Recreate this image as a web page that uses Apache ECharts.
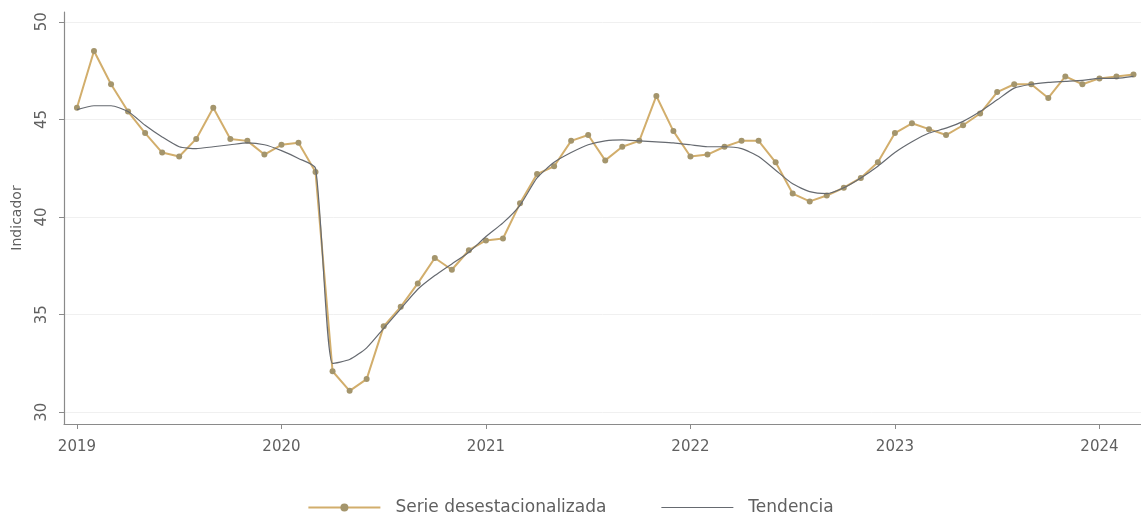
<!DOCTYPE html>
<html>
<head>
<meta charset="utf-8">
<script src="https://cdn.jsdelivr.net/npm/echarts@6/dist/echarts.min.js"></script>
<style>html,body{margin:0;padding:0;background:#fff;}#c{width:1141px;height:515px;}</style>
</head>
<body>
<div id="c"></div>
<script>
// Monthly, Jan 2019 (index 0) .. Mar 2024 (index 62)
const startYear = 2019;
const yearTicks = [2019, 2020, 2021, 2022, 2023, 2024];
const yTicks = [30, 35, 40, 45, 50];
const serieDesest = [
  45.6, 48.5, 46.8, 45.4, 44.3, 43.3, 43.1, 44.0, 45.6, 44.0, 43.9, 43.2,
  43.7, 43.8, 42.3, 32.1, 31.1, 31.7, 34.4, 35.4, 36.6, 37.9, 37.3, 38.3,
  38.8, 38.9, 40.7, 42.2, 42.6, 43.9, 44.2, 42.9, 43.6, 43.9, 46.2, 44.4,
  43.1, 43.2, 43.6, 43.9, 43.9, 42.8, 41.2, 40.8, 41.1, 41.5, 42.0, 42.8,
  44.3, 44.8, 44.5, 44.2, 44.7, 45.3, 46.4, 46.8, 46.8, 46.1, 47.2, 46.8,
  47.1, 47.2, 47.3
];
const tendencia = [
  45.5, 45.7, 45.7, 45.4, 44.7, 44.1, 43.6, 43.5, 43.6, 43.7, 43.8, 43.7,
  43.4, 43.0, 42.5, 32.5, 32.7, 33.3, 34.3, 35.3, 36.3, 37.0, 37.6, 38.2,
  39.0, 39.7, 40.6, 42.0, 42.8, 43.3, 43.7, 43.9, 43.95, 43.9, 43.85, 43.8,
  43.7, 43.6, 43.6, 43.5, 43.1, 42.4, 41.7, 41.3, 41.2, 41.5, 42.0, 42.6,
  43.3, 43.85, 44.3, 44.55, 44.9, 45.4, 46.0, 46.6, 46.8, 46.9, 46.95, 47.0,
  47.1, 47.1, 47.2
];
const toPairs = arr => arr.map((v, i) => [i, v]);
const font = 'DejaVu Sans';
const txt = '#606060';
const chart = echarts.init(document.getElementById('c'));
chart.setOption({
  backgroundColor: '#fff',
  animation: false,
  grid: {left: 64, right: 0, top: 12, bottom: 91, containLabel: false},
  xAxis: {
    type: 'value', min: -0.76, max: 62.44,
    axisLine: {show: true, onZero: false, lineStyle: {color: '#8a8a8a', width: 1.2}},
    axisTick: {show: true, length: 5, lineStyle: {color: '#8a8a8a'}, customValues: yearTicks.map(y => (y - startYear) * 12)},
    axisLabel: {customValues: yearTicks.map(y => (y - startYear) * 12), formatter: v => String(startYear + Math.round(v / 12)), color: txt, fontFamily: font, fontSize: 15, margin: 16},
    splitLine: {show: false}
  },
  yAxis: {
    type: 'value', min: 29.4, max: 50.5,
    name: 'Indicador', nameLocation: 'middle', nameGap: 40, nameRotate: 90,
    nameTextStyle: {color: txt, fontFamily: font, fontSize: 14},
    axisLine: {show: true, onZero: false, lineStyle: {color: '#8a8a8a', width: 1.2}},
    axisTick: {show: true, length: 5, lineStyle: {color: '#8a8a8a'}, customValues: yTicks},
    axisLabel: {customValues: yTicks, rotate: 90, color: txt, fontFamily: font, fontSize: 15, margin: 14},
    splitLine: {show: true, customValues: yTicks, lineStyle: {color: '#f0f0f0', width: 1}}
  },
  legend: {
    top: 494, left: 'center', itemWidth: 72, itemHeight: 10, itemGap: 55,
    textStyle: {color: txt, fontFamily: font, fontSize: 17, padding: [0, 0, 0, 10]},
    data: [
      {name: 'Serie desestacionalizada'},
      {name: 'Tendencia', icon: 'path://M0,0 L72,0 L72,1.2 L0,1.2 Z'}
    ]
  },
  series: [
    {
      name: 'Serie desestacionalizada', type: 'line', data: toPairs(serieDesest),
      symbol: 'circle', symbolSize: 6, showSymbol: true,
      lineStyle: {color: '#d2ae6c', width: 2},
      itemStyle: {color: '#a4956c'}, z: 2
    },
    {
      name: 'Tendencia', type: 'line', data: toPairs(tendencia),
      symbol: 'none', smooth: 0.2,
      lineStyle: {color: '#666a70', width: 1.2},
      itemStyle: {color: '#666a70'}, z: 3
    }
  ]
});
</script>
</body>
</html>
